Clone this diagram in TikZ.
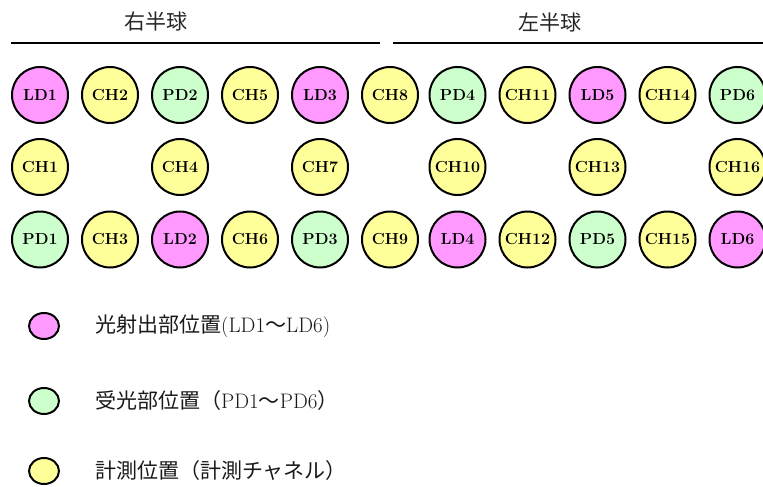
\documentclass[tikz,border=0pt]{standalone}
\usepackage{fontspec}
\newfontfamily\jp{Noto Sans CJK JP}
\definecolor{ldpink}{HTML}{FF99FF}
\definecolor{pdgreen}{HTML}{CCFFCC}
\definecolor{chyellow}{HTML}{FFFF99}
\definecolor{txtgray}{HTML}{262626}
\tikzset{
  probe/.style  = {shape=circle, draw, line width=2pt,
                   minimum size=56pt, inner sep=0pt,
                   font=\fontsize{16}{18}\selectfont\bfseries},
  ld/.style     = {probe, fill=ldpink},
  pd/.style     = {probe, fill=pdgreen},
  ch/.style     = {probe, fill=chyellow},
  keymark/.style = {shape=ellipse, draw, line width=2pt,
                   minimum width=30pt, minimum height=26pt, inner sep=0pt},
  keytext/.style = {anchor=west, inner sep=0pt, text=black!90,
                   font=\fontsize{21}{23}\selectfont},
  side/.style   = {text=txtgray, font=\jp\fontsize{21}{23}\selectfont}
}
\usetikzlibrary{shapes.geometric}
\begin{document}
\begin{tikzpicture}[x=1pt, y=-1pt]
  \useasboundingbox (0,0) rectangle (763,487);
  % hemispheres
  \node [side] (right) at (156,22) {右半球};
  \node [side] (left)  at (550,22) {左半球};
  \coordinate (r1) at (10.5,43);
  \coordinate (r2) at (380,43);
  \coordinate (l1) at (393,43);
  \coordinate (l2) at (763,43);
  \draw [line width=2pt] (r1) -- (r2);
  \draw [line width=2pt] (l1) -- (l2);
  % top row
  \node [ld] (LD1)  at (40,95)    {LD1};
  \node [ch] (CH2)  at (110,95)   {CH2};
  \node [pd] (PD2)  at (180,95)   {PD2};
  \node [ch] (CH5)  at (250,95)   {CH5};
  \node [ld] (LD3)  at (320,95)   {LD3};
  \node [ch] (CH8)  at (390,95)   {CH8};
  \node [pd] (PD4)  at (457.5,95) {PD4};
  \node [ch] (CH11) at (527.5,95) {CH11};
  \node [ld] (LD5)  at (597.5,95) {LD5};
  \node [ch] (CH14) at (667.5,95) {CH14};
  \node [pd] (PD6)  at (737.5,95) {PD6};
  % middle row
  \node [ch] (CH1)  at (40,167)    {CH1};
  \node [ch] (CH4)  at (180,167)   {CH4};
  \node [ch] (CH7)  at (320,167)   {CH7};
  \node [ch] (CH10) at (457.5,167) {CH10};
  \node [ch] (CH13) at (597.5,167) {CH13};
  \node [ch] (CH16) at (737.5,167) {CH16};
  % bottom row
  \node [pd] (PD1)  at (40,239.5)    {PD1};
  \node [ch] (CH3)  at (110,239.5)   {CH3};
  \node [ld] (LD2)  at (180,239.5)   {LD2};
  \node [ch] (CH6)  at (250,239.5)   {CH6};
  \node [pd] (PD3)  at (320,239.5)   {PD3};
  \node [ch] (CH9)  at (390,239.5)   {CH9};
  \node [ld] (LD4)  at (457.5,239.5) {LD4};
  \node [ch] (CH12) at (527.5,239.5) {CH12};
  \node [pd] (PD5)  at (597.5,239.5) {PD5};
  \node [ch] (CH15) at (667.5,239.5) {CH15};
  \node [ld] (LD6)  at (737.5,239.5) {LD6};
  % legend
  \node [keymark, fill=ldpink]   (keyLD) at (44,326) {};
  \node [keymark, fill=pdgreen]  (keyPD) at (44,401) {};
  \node [keymark, fill=chyellow] (keyCH) at (44,471) {};
  \node [keytext] (textLD) at (95,326) {{\jp 光射出部位置}(LD1{\jp ～}LD6)};
  \node [keytext] (textPD) at (95,401) {{\jp 受光部位置（}PD1{\jp ～}PD6{\jp ）}};
  \node [keytext] (textCH) at (95,471) {{\jp 計測位置（計測チャネル）}};
\end{tikzpicture}
\end{document}
